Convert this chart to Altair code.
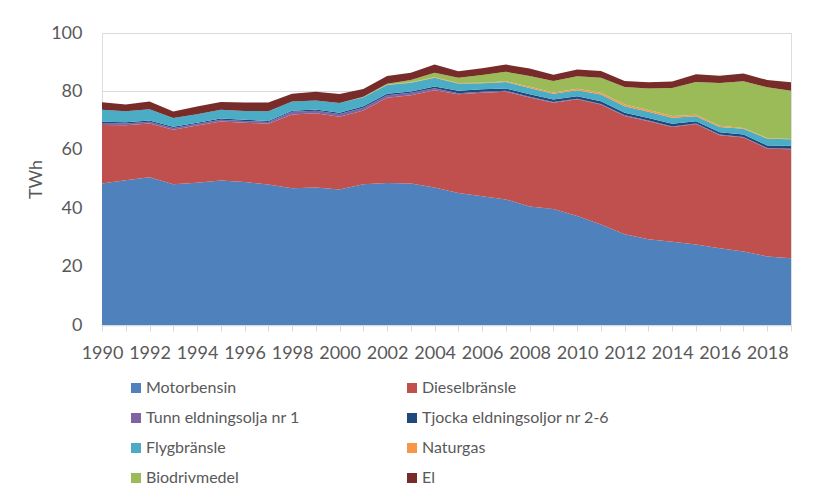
import altair as alt
import pandas as pd

years = list(range(1990, 2020))
series = ["Motorbensin", "Dieselbränsle", "Tunn eldningsolja nr 1",
          "Tjocka eldningsoljor nr 2-6", "Flygbränsle", "Naturgas",
          "Biodrivmedel", "El"]
colors = ["#4F81BD", "#C0504D", "#8064A2", "#1F497D", "#4BACC6",
          "#F79646", "#9BBB59", "#772C2A"]

motorbensin = [48.5, 49.6, 50.6, 48.2, 48.7, 49.5, 49.0, 48.1, 46.8, 47.1,
               46.4, 48.2, 48.6, 48.5, 47.1, 45.2, 44.1, 43.0, 40.6, 39.7,
               37.3, 34.4, 31.1, 29.4, 28.5, 27.6, 26.3, 25.2, 23.5, 22.9]
diesel = [20.0, 18.8, 18.4, 18.7, 19.6, 20.2, 20.3, 20.8, 25.3, 25.4,
          24.9, 25.3, 29.2, 30.2, 33.3, 33.8, 35.4, 36.9, 37.3, 36.4,
          40.0, 41.1, 40.5, 40.4, 39.3, 41.2, 38.7, 39.0, 36.9, 37.3]
tunn = [0.7, 0.6, 0.6, 0.6, 0.6, 0.6, 0.6, 0.6, 0.9, 0.9,
        1.0, 0.9, 0.9, 0.8, 0.7, 0.4, 0.4, 0.3, 0.3, 0.3,
        0.2, 0.2, 0.2, 0.2, 0.2, 0.2, 0.2, 0.2, 0.2, 0.2]
tjocka = [0.4, 0.4, 0.4, 0.4, 0.4, 0.4, 0.4, 0.4, 0.4, 0.4,
          0.4, 0.5, 0.5, 0.5, 0.6, 0.8, 0.8, 0.8, 0.8, 0.8,
          0.8, 0.9, 0.9, 0.9, 0.9, 0.8, 0.8, 0.8, 0.9, 1.0]
flyg = [4.1, 3.8, 3.9, 3.0, 2.9, 3.0, 3.0, 3.3, 3.1, 3.1,
        3.3, 3.1, 3.0, 3.0, 3.0, 2.5, 2.1, 2.2, 2.2, 2.0,
        2.1, 2.3, 2.2, 2.1, 2.1, 1.7, 1.8, 2.0, 2.3, 2.2]
naturgas = [0.0, 0.0, 0.0, 0.0, 0.0, 0.0, 0.0, 0.0, 0.0, 0.0,
            0.0, 0.05, 0.1, 0.1, 0.15, 0.2, 0.2, 0.3, 0.4, 0.4,
            0.5, 0.6, 0.6, 0.6, 0.6, 0.5, 0.4, 0.3, 0.2, 0.1]
biodrivmedel = [0.0, 0.0, 0.0, 0.0, 0.0, 0.0, 0.0, 0.0, 0.0, 0.0,
                0.0, 0.1, 0.3, 0.8, 1.5, 1.8, 2.6, 3.2, 3.7, 4.0,
                4.3, 5.2, 6.0, 7.4, 9.6, 11.2, 14.7, 16.0, 17.4, 16.5]
el = [2.6, 2.3, 2.6, 2.2, 2.6, 2.7, 2.9, 3.0, 2.7, 3.0,
      3.1, 2.7, 2.7, 2.5, 2.9, 2.2, 2.3, 2.5, 2.5, 2.1,
      2.3, 2.3, 2.1, 2.1, 2.2, 2.7, 2.5, 2.6, 2.5, 2.9]

values = [motorbensin, diesel, tunn, tjocka, flyg, naturgas, biodrivmedel, el]

rows = []
for i, (name, vals) in enumerate(zip(series, values)):
    for y, v in zip(years, vals):
        rows.append({"År": y, "Serie": name, "TWh": v, "ordning": i})
df = pd.DataFrame(rows)

FONT = "Lato"
GREY = "#595959"
LIGHT = "#D9D9D9"

chart = alt.Chart(df).mark_area(interpolate="linear").encode(
    x=alt.X("År:Q",
            scale=alt.Scale(domain=[1990, 2019], nice=False, zero=False),
            axis=alt.Axis(values=years, format="d",
                          labelExpr="datum.value % 2 == 0 ? datum.label : ''",
                          title=None, grid=False, tickSize=6, tickColor=LIGHT,
                          domainColor=LIGHT, domainWidth=1.5,
                          labelFontSize=18, labelColor=GREY, labelFont=FONT,
                          labelPadding=13, labelOverlap=False,
                          labelFlush=False)),
    y=alt.Y("TWh:Q", stack="zero",
            scale=alt.Scale(domain=[0, 100], nice=False),
            axis=alt.Axis(values=[0, 20, 40, 60, 80, 100], title="TWh",
                          domain=False, ticks=False, gridColor=LIGHT,
                          labelFontSize=18, labelColor=GREY, labelFont=FONT,
                          labelPadding=20, titleFontSize=18, titleColor=GREY,
                          titleFont=FONT, titleFontWeight="normal",
                          titlePadding=5)),
    color=alt.Color("Serie:N",
                    scale=alt.Scale(domain=series, range=colors),
                    legend=alt.Legend(title=None, orient="none", columns=2,
                                      direction="horizontal",
                                      legendX=26, legendY=347,
                                      symbolType="square", symbolSize=100,
                                      symbolStrokeWidth=0, labelFontSize=16,
                                      labelFont=FONT, labelColor=GREY,
                                      labelOffset=2,
                                      columnPadding=104, rowPadding=14,
                                      labelLimit=400, symbolOpacity=1)),
    order=alt.Order("ordning:Q", sort="ascending"),
).properties(
    width=689, height=292,
    padding={"left": 19, "top": 16, "right": 10, "bottom": 5},
).configure_view(stroke=None).configure(background="white")

chart.save("out.html", embed_options={"renderer": "svg", "actions": False})
